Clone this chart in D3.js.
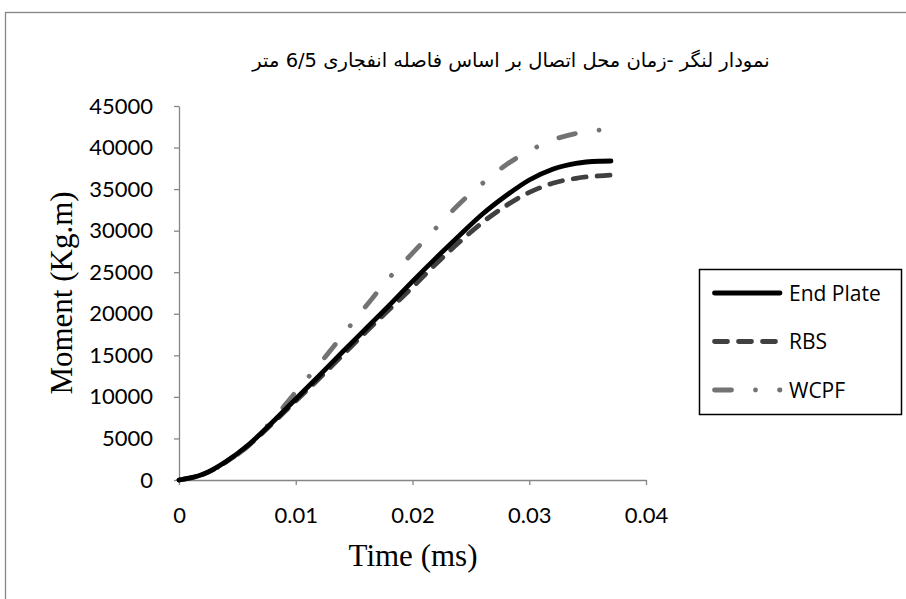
<!DOCTYPE html>
<html>
  <head>
    <meta charset="utf-8">
    <style>
      body { margin: 0; background: #fff; }
      .axis path, .axis line { stroke: #868686; stroke-width: 1.3px; }
      .axis text { font-family: Lato, "Open Sans", sans-serif; font-size: 22px; fill: #000; }
      .series { fill: none; }
    </style>
  </head>
  <body>
    <svg width="906" height="599"></svg>
    <script src="https://d3js.org/d3.v7.min.js"></script>
    <script>
      // time (ms)
      var times = [0, 0.002, 0.004, 0.006, 0.008, 0.010, 0.012, 0.014, 0.016, 0.018,
        0.020, 0.022, 0.024, 0.026, 0.028, 0.030, 0.032, 0.034, 0.036, 0.037];

      var endPlate = [0, 650, 2200, 4300, 6950, 9750, 12550, 15400, 18200, 21000,
        23900, 26700, 29400, 32000, 34200, 36100, 37400, 38100, 38350, 38380];
      var rbs = [0, 650, 2150, 4200, 6800, 9500, 12200, 15000, 17800, 20500,
        23200, 26000, 28600, 31000, 33000, 34600, 35700, 36300, 36600, 36700];
      var wcpfTimes = [0, 0.002, 0.004, 0.006, 0.008, 0.010, 0.012, 0.014, 0.016, 0.018,
        0.020, 0.022, 0.024, 0.026, 0.028, 0.030, 0.032, 0.034, 0.036, 0.0365];
      var wcpf = [0, 650, 2100, 4200, 7200, 10600, 13900, 17400, 20900, 24300,
        27300, 30300, 33200, 35700, 37900, 39600, 40900, 41700, 42100, 42200];

      var xTicks = [0, 0.01, 0.02, 0.03, 0.04];
      var yTicks = [0, 5000, 10000, 15000, 20000, 25000, 30000, 35000, 40000, 45000];
      var seriesNames = ["End Plate", "RBS", "WCPF"];

      var titleText = "نمودار لنگر -زمان محل اتصال بر اساس فاصله انفجاری 6/5 متر";

      var svg = d3.select("svg");

      // chart area border (runs off the page to the right and bottom)
      svg.append("rect")
        .attr("x", 5.5).attr("y", 12.5)
        .attr("width", 1000).attr("height", 700)
        .attr("fill", "none").attr("stroke", "#868686").attr("stroke-width", 1.3);

      var x = d3.scaleLinear().domain([0, 0.04]).range([179, 646]);
      var y = d3.scaleLinear().domain([0, 45000]).range([480, 106]);

      svg.append("g")
        .attr("class", "axis")
        .attr("transform", "translate(179,0)")
        .call(d3.axisLeft(y).tickValues(yTicks).tickSize(5).tickSizeOuter(0).tickPadding(21)
          .tickFormat(d3.format("d")));

      svg.append("g")
        .attr("class", "axis")
        .attr("transform", "translate(0,480)")
        .call(d3.axisBottom(x).tickValues(xTicks).tickSize(5).tickSizeOuter(0).tickPadding(22)
          .tickFormat(function(d) { return d === 0 ? "0" : String(d); }));

      var line = d3.line()
        .x(function(d) { return x(d[0]); })
        .y(function(d) { return y(d[1]); })
        .curve(d3.curveMonotoneX);

      var styles = [
        { color: "#000000", dash: null },
        { color: "#404040", dash: "13,11" },
        { color: "#737373", dash: "17,24,0.01,24" }
      ];

      var data = [
        d3.zip(times, endPlate),
        d3.zip(times, rbs),
        d3.zip(wcpfTimes, wcpf)
      ];

      // draw WCPF first, end plate on top
      [2, 1, 0].forEach(function(i) {
        svg.append("path")
          .attr("class", "series")
          .attr("d", line(data[i]))
          .attr("stroke", styles[i].color)
          .attr("stroke-width", 4.8)
          .attr("stroke-linecap", "round")
          .attr("stroke-linejoin", "round")
          .attr("stroke-dasharray", styles[i].dash);
      });

      // title
      svg.append("text")
        .attr("x", 511).attr("y", 67)
        .attr("text-anchor", "middle")
        .attr("direction", "rtl")
        .style("font-family", "'DejaVu Sans', sans-serif")
        .style("font-size", "19.5px")
        .text(titleText);

      // axis titles
      svg.append("text")
        .attr("x", 413).attr("y", 566)
        .attr("text-anchor", "middle")
        .style("font-family", "'Liberation Serif', serif")
        .style("font-size", "31px")
        .text("Time (ms)");

      svg.append("text")
        .attr("transform", "translate(72,293) rotate(-90)")
        .attr("text-anchor", "middle")
        .style("font-family", "'Liberation Serif', serif")
        .style("font-size", "31px")
        .text("Moment (Kg.m)");

      // legend
      var legend = svg.append("g");
      legend.append("rect")
        .attr("x", 699.5).attr("y", 269.5)
        .attr("width", 202).attr("height", 145)
        .attr("fill", "#fff").attr("stroke", "#000").attr("stroke-width", 1.5);

      var ly = d3.scalePoint().domain(seriesNames).range([293, 390]);

      seriesNames.forEach(function(name, i) {
        legend.append("line")
          .attr("x1", 714.5).attr("x2", 780)
          .attr("y1", ly(name)).attr("y2", ly(name))
          .attr("stroke", styles[i].color)
          .attr("stroke-width", 4.8)
          .attr("stroke-linecap", "round")
          .attr("stroke-dasharray", styles[i].dash);
        legend.append("text")
          .attr("x", 789).attr("y", ly(name))
          .attr("dy", "0.36em")
          .style("font-family", "'Open Sans', sans-serif")
          .style("font-size", "21px")
          .text(name);
      });
    </script>
  </body>
</html>
